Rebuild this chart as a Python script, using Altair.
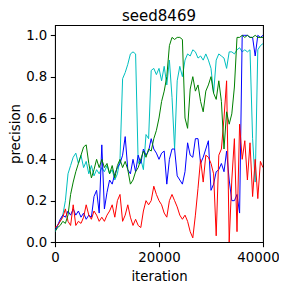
import altair as alt
import pandas as pd

ITER = list(range(0, 40001, 500))

RED = [0.07, 0.08, 0.10, 0.12, 0.16, 0.10, 0.08, 0.18, 0.08, 0.10,
       0.09, 0.12, 0.18, 0.13, 0.11, 0.15, 0.13, 0.10, 0.12, 0.10,
       0.13, 0.15, 0.18, 0.12, 0.20, 0.23, 0.10, 0.13, 0.18, 0.12,
       0.08, 0.11, 0.08, 0.07, 0.15, 0.20, 0.18, 0.20, 0.27, 0.23,
       0.20, 0.18, 0.14, 0.12, 0.20, 0.23, 0.20, 0.17, 0.13, 0.11,
       0.13, 0.10, 0.05, 0.02, 0.13, 0.26, 0.40, 0.29, 0.42, 0.41,
       0.38, 0.33, 0.03, 0.42, 0.45, 0.60, 0.78, 0.00, 0.30, 0.50,
       0.05, 0.57, 0.40, 0.49, 0.30, 0.48, 0.22, 0.40, 0.21, 0.39,
       0.36]

BLUE = [0.05, 0.08, 0.11, 0.13, 0.12, 0.15, 0.13, 0.16, 0.13, 0.15,
        0.12, 0.14, 0.11, 0.13, 0.12, 0.22, 0.25, 0.14, 0.47, 0.16,
        0.24, 0.30, 0.28, 0.33, 0.36, 0.38, 0.42, 0.51, 0.35, 0.33,
        0.40, 0.34, 0.42, 0.38, 0.45, 0.42, 0.44, 0.50, 0.45, 0.43,
        0.40, 0.43, 0.44, 0.28, 0.40, 0.45, 0.45, 0.32, 0.30, 0.28,
        0.34, 0.48, 0.42, 0.41, 0.50, 0.50, 0.38, 0.41, 0.45, 0.49,
        0.25, 0.28, 0.34, 0.35, 0.38, 0.34, 0.44, 0.30, 0.20, 0.20,
        0.23, 0.14, 1.00, 1.00, 1.00, 0.99, 0.99, 0.90, 1.00, 0.99,
        1.00]

GREEN = [0.05, 0.07, 0.08, 0.10, 0.09, 0.13, 0.23, 0.29, 0.34, 0.38,
         0.42, 0.46, 0.47, 0.38, 0.31, 0.35, 0.40, 0.36, 0.40, 0.36,
         0.38, 0.33, 0.37, 0.31, 0.37, 0.40, 0.36, 0.39, 0.35, 0.28,
         0.30, 0.34, 0.36, 0.40, 0.44, 0.41, 0.45, 0.44, 0.50, 0.54,
         0.60, 0.68, 0.73, 0.80, 0.95, 0.99, 0.98, 0.99, 0.99, 0.98,
         0.60, 0.55, 0.74, 0.80, 0.73, 0.76, 0.68, 0.63, 0.73, 0.76,
         0.80, 0.72, 0.69, 0.78, 0.68, 0.45, 0.63, 0.57, 0.62, 0.75,
         0.99, 0.99, 1.00, 0.99, 1.00, 0.99, 0.99, 1.00, 0.99, 0.99,
         0.99]

CYAN = [0.05, 0.08, 0.10, 0.13, 0.20, 0.33, 0.37, 0.41, 0.43, 0.38,
        0.42, 0.36, 0.39, 0.33, 0.37, 0.32, 0.35, 0.33, 0.36, 0.34,
        0.37, 0.33, 0.35, 0.30, 0.33, 0.40, 0.79, 0.82, 0.86, 0.91,
        0.92, 0.91, 0.38, 0.40, 0.35, 0.52, 0.50, 0.83, 0.84, 0.81,
        0.84, 0.78, 0.85, 0.76, 0.88, 0.70, 0.45, 0.78, 0.85, 0.80,
        0.88, 0.91, 0.90, 0.93, 0.92, 0.89, 0.90, 0.88, 0.91, 0.88,
        0.84, 0.72, 0.88, 0.91, 0.90, 0.89, 0.84, 0.92, 0.92, 0.91,
        0.93, 0.94, 0.92, 0.93, 0.92, 0.93, 0.50, 0.29, 0.93, 0.95,
        0.96]

SERIES = [("c", CYAN, "#00bfbf"), ("b", BLUE, "#0000ff"),
          ("r", RED, "#ff0000"), ("g", GREEN, "#008000")]

FONT = "DejaVu Sans"

xscale = alt.Scale(domain=[0, 40000], nice=False, zero=False)
yscale = alt.Scale(domain=[0, 1.05], nice=False, zero=False)

xaxis = alt.Axis(values=[0, 20000, 40000], format="d", title="iteration",
                 grid=False, tickSize=4.7, tickWidth=1.07, tickColor="black",
                 domain=False, labelFont=FONT, labelFontSize=13.3,
                 labelColor="black", labelPadding=3.5, labelFlush=False,
                 labelOffset={"condition": {"test": "datum.value == 40000",
                                            "value": -5}, "value": 0},
                 titleFont=FONT, titleFontSize=13.3, titleFontWeight="normal",
                 titleColor="black", titlePadding=6)
yaxis = alt.Axis(values=[0, 0.2, 0.4, 0.6, 0.8, 1.0], format=".1f",
                 title="precision", grid=False, tickSize=4.7, tickWidth=1.07,
                 tickColor="black", domain=False, labelFont=FONT,
                 labelFontSize=13.3, labelColor="black", labelPadding=3.5,
                 labelFlush=False, titleFont=FONT, titleFontSize=13.3,
                 titleFontWeight="normal", titleColor="black", titlePadding=3)

layers = []
for name, vals, col in SERIES:
    df = pd.DataFrame({"iteration": ITER, "precision": vals})
    layers.append(
        alt.Chart(df).mark_line(color=col, strokeWidth=1, clip=True).encode(
            x=alt.X("iteration:Q", scale=xscale, axis=xaxis),
            y=alt.Y("precision:Q", scale=yscale, axis=yaxis),
        )
    )

chart = alt.layer(*layers).properties(
    width=208, height=217,
    title=alt.TitleParams("seed8469", font=FONT, fontSize=15,
                          fontWeight="normal", color="black", offset=1),
    autosize=alt.AutoSizeParams(type="none"),
    padding={"left": 47, "top": 17, "right": 16, "bottom": 41},
).configure_view(stroke="black", strokeWidth=1.07)

chart.save("out.html", embed_options={"renderer": "svg", "actions": False})
